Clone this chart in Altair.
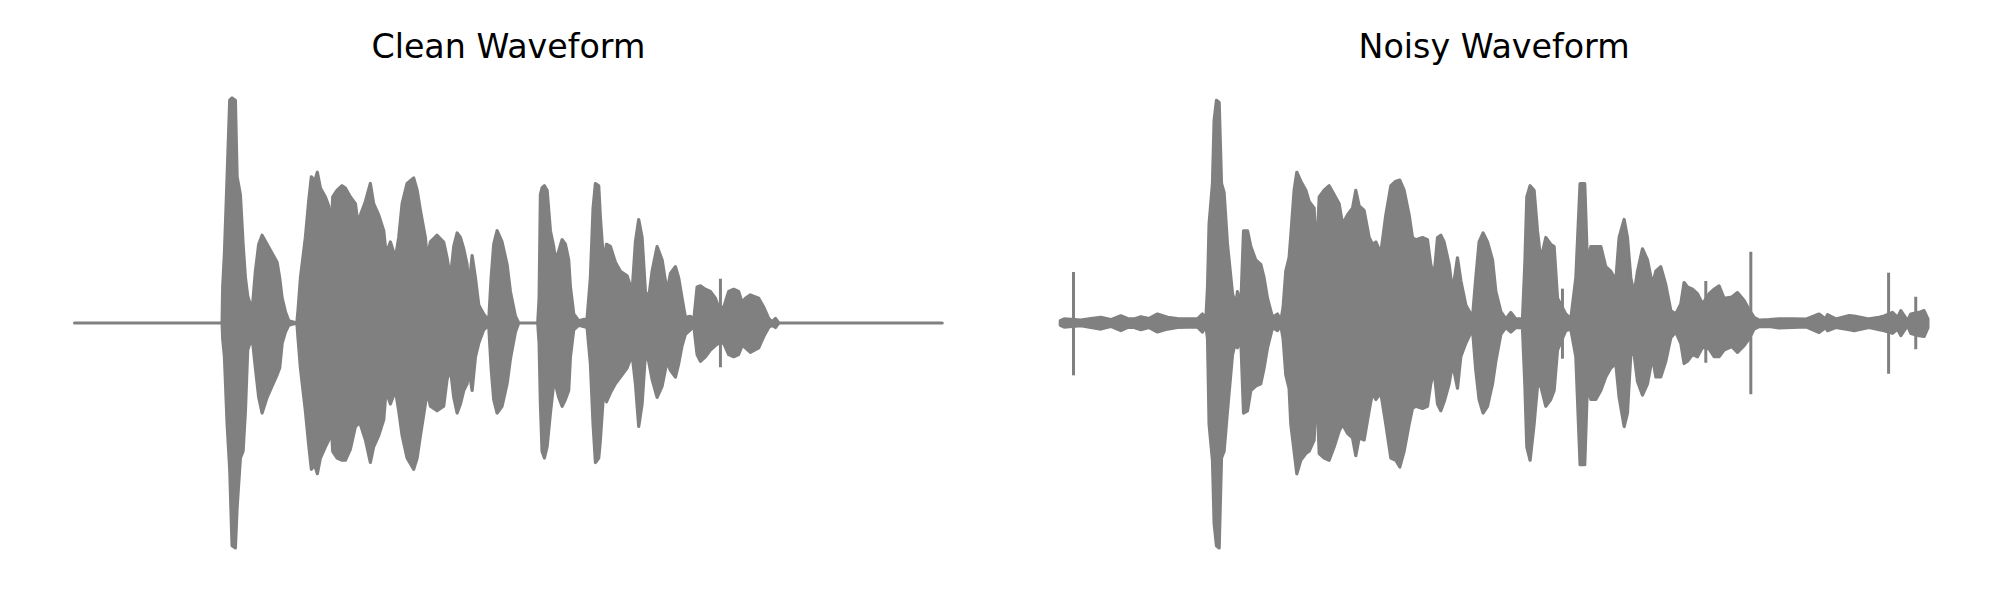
import altair as alt
import pandas as pd

# ---------- Clean waveform envelope (time in % of clip, amplitude normalised) ----------
clean_t = [
    0, 17.00, 17.07, 17.27, 17.58, 17.88, 18.15, 18.53, 18.73, 19.11,
    19.42, 19.69, 19.95, 20.46, 20.84, 21.22, 21.61, 22.19, 22.76, 23.34,
    23.64, 23.92, 24.30, 24.68, 25.62, 25.76, 26.03, 26.60, 26.98, 27.29,
    27.67, 27.98, 28.33, 28.91, 29.29, 29.56, 29.75, 30.26, 30.83, 31.21,
    31.79, 32.37, 32.63, 32.94, 33.52, 34.09, 34.47, 35.05, 35.63, 35.90,
    36.40, 36.98, 37.36, 37.75, 38.32, 39.08, 39.48, 39.86, 40.43, 40.63,
    41.01, 41.78, 42.54, 42.93, 43.31, 43.70, 44.09, 44.47, 44.85, 45.24,
    45.42, 45.82, 46.20, 46.58, 47.15, 47.73, 48.01, 48.31, 48.70, 49.27,
    49.85, 50.23, 50.81, 51.19, 53.38, 53.54, 53.69, 53.88, 54.15, 54.46,
    54.84, 55.22, 55.42, 55.80, 56.19, 56.57, 56.95, 57.15, 57.53, 58.10,
    59.07, 59.45, 59.76, 60.03, 60.41, 60.60, 60.99, 61.30, 61.76, 62.33,
    62.91, 63.68, 64.26, 64.64, 65.02, 65.41, 65.79, 66.17, 66.56, 67.14,
    67.72, 68.29, 68.67, 69.25, 69.63, 70.02, 70.40, 70.98, 71.36, 71.75,
    72.13, 72.71, 73.28, 73.86, 74.24, 74.82, 75.39, 75.97, 76.54, 76.94,
    77.32, 77.89, 78.85, 79.43, 80.00, 80.39, 80.78, 81.16, 100,
]
clean_upper = [
    0, 0, 0.16, 0.31, 0.65, 0.99, 1.0, 0.99, 0.65, 0.57,
    0.35, 0.2, 0.12, 0.055, 0.23, 0.35, 0.39, 0.35, 0.31, 0.27,
    0.2, 0.11, 0.05, 0.01, 0, 0.06, 0.2, 0.38, 0.54, 0.65,
    0.63, 0.67, 0.6, 0.56, 0.52, 0.39, 0.56, 0.59, 0.61, 0.6,
    0.56, 0.53, 0.45, 0.48, 0.54, 0.62, 0.53, 0.48, 0.41, 0.31,
    0.36, 0.29, 0.38, 0.53, 0.62, 0.645, 0.59, 0.5, 0.38, 0.29,
    0.36, 0.39, 0.36, 0.29, 0.2, 0.34, 0.4, 0.38, 0.33, 0.26,
    0.14, 0.3, 0.2, 0.08, 0.04, 0.01, 0.2, 0.35, 0.41, 0.36,
    0.26, 0.14, 0.03, 0, 0, 0.11, 0.57, 0.6, 0.61, 0.59,
    0.41, 0.34, 0.28, 0.32, 0.37, 0.35, 0.28, 0.16, 0.04, 0.01,
    0.02, 0.2, 0.51, 0.62, 0.61, 0.47, 0.26, 0.35, 0.34, 0.27,
    0.23, 0.21, 0.14, 0.36, 0.46, 0.38, 0.14, 0.11, 0.23, 0.34,
    0.28, 0.14, 0.22, 0.25, 0.2, 0.11, 0.025, 0.03, 0.01, 0.16,
    0.165, 0.15, 0.14, 0.11, 0.07, 0.07, 0.14, 0.15, 0.14, 0.09,
    0.11, 0.125, 0.11, 0.07, 0.02, 0.005, 0.02, 0, 0,
]
clean_lower = [
    0, 0, -0.07, -0.15, -0.45, -0.65, -0.99, -1.0, -0.82, -0.6,
    -0.57, -0.39, -0.12, -0.06, -0.2, -0.33, -0.40, -0.33, -0.28, -0.23,
    -0.2, -0.09, -0.04, -0.01, 0, -0.07, -0.2, -0.39, -0.54, -0.65,
    -0.63, -0.67, -0.6, -0.55, -0.52, -0.43, -0.57, -0.6, -0.61, -0.61,
    -0.56, -0.46, -0.45, -0.45, -0.52, -0.62, -0.55, -0.5, -0.43, -0.3,
    -0.36, -0.3, -0.39, -0.5, -0.6, -0.65, -0.6, -0.5, -0.36, -0.3,
    -0.37, -0.39, -0.37, -0.25, -0.2, -0.33, -0.4, -0.36, -0.3, -0.27,
    -0.2, -0.3, -0.15, -0.09, -0.03, -0.01, -0.2, -0.34, -0.4, -0.37,
    -0.27, -0.16, -0.04, 0, 0, -0.09, -0.36, -0.57, -0.6, -0.55,
    -0.4, -0.27, -0.27, -0.33, -0.37, -0.34, -0.3, -0.15, -0.03, -0.01,
    -0.02, -0.18, -0.45, -0.62, -0.6, -0.52, -0.3, -0.35, -0.31, -0.27,
    -0.24, -0.2, -0.14, -0.27, -0.46, -0.36, -0.14, -0.17, -0.25, -0.33,
    -0.28, -0.17, -0.21, -0.24, -0.18, -0.1, -0.05, -0.03, -0.01, -0.14,
    -0.17, -0.15, -0.12, -0.1, -0.09, -0.09, -0.14, -0.15, -0.14, -0.1,
    -0.11, -0.13, -0.11, -0.06, -0.02, -0.01, -0.02, 0, 0,
]
clean_spike_t = [74.44]
clean_spike_top = [0.19]
clean_spike_bottom = [-0.19]

# ---------- Noisy waveform envelope ----------
noisy_t = [
    0, 0.44, 2.36, 3.52, 4.67, 5.82, 6.97, 7.74, 8.51, 9.28,
    10.24, 11.20, 12.36, 13.51, 14.66, 15.81, 16.39, 16.77, 16.97, 17.15,
    17.54, 17.73, 18.00, 18.31, 18.58, 18.88, 19.27, 19.85, 20.23, 20.42,
    20.80, 21.12, 21.58, 21.96, 22.53, 23.11, 23.49, 23.88, 24.46, 25.03,
    25.42, 25.68, 25.99, 26.37, 26.57, 26.95, 27.26, 27.72, 28.30, 28.68,
    29.26, 29.53, 29.84, 30.41, 30.99, 31.57, 32.14, 32.53, 33.10, 33.68,
    34.06, 34.45, 35.02, 35.60, 35.98, 36.37, 36.94, 37.52, 38.10, 38.67,
    39.13, 39.63, 40.21, 40.59, 40.98, 41.75, 42.32, 42.70, 43.08, 43.48,
    43.86, 44.24, 44.82, 45.21, 45.78, 46.16, 46.74, 47.51, 47.89, 48.27,
    48.73, 49.24, 49.82, 50.20, 50.78, 51.35, 51.93, 52.50, 53.27, 53.54,
    53.77, 54.15, 54.61, 55.00, 55.38, 55.96, 56.53, 56.92, 57.31, 58.26,
    58.84, 59.42, 59.91, 60.45, 60.76, 61.15, 61.72, 62.30, 62.87, 63.45,
    64.03, 64.41, 64.99, 65.37, 65.76, 66.14, 66.53, 67.10, 67.68, 68.26,
    68.64, 69.21, 69.79, 70.37, 70.94, 71.52, 71.90, 72.29, 72.87, 73.44,
    74.02, 74.78, 75.36, 75.93, 76.51, 77.40, 78.05, 78.82, 79.39, 79.97,
    80.55, 81.70, 82.85, 84.39, 85.93, 87.46, 88.23, 88.43, 89.39, 90.92,
    91.50, 93.22, 94.38, 94.96, 95.92, 96.50, 96.88, 97.65, 98.03, 98.98,
    99.56, 100,
]
noisy_upper = [
    0.01, 0.018, 0.013, 0.02, 0.025, 0.015, 0.032, 0.02, 0.018, 0.028,
    0.02, 0.04, 0.025, 0.02, 0.018, 0.018, 0.04, 0.01, 0.16, 0.44,
    0.62, 0.9, 0.99, 0.98, 0.62, 0.58, 0.35, 0.13, 0.08, 0.14,
    0.07, 0.41, 0.41, 0.34, 0.28, 0.26, 0.2, 0.11, 0.025, 0.04,
    0.01, 0.07, 0.23, 0.29, 0.39, 0.59, 0.67, 0.63, 0.59, 0.54,
    0.51, 0.29, 0.56, 0.59, 0.61, 0.57, 0.53, 0.44, 0.48, 0.51,
    0.59, 0.52, 0.5, 0.38, 0.35, 0.36, 0.31, 0.48, 0.61, 0.63,
    0.635, 0.59, 0.48, 0.38, 0.37, 0.38, 0.37, 0.26, 0.21, 0.38,
    0.39, 0.36, 0.26, 0.14, 0.29, 0.19, 0.08, 0.025, 0.2, 0.36,
    0.4, 0.36, 0.28, 0.14, 0.05, 0.018, 0.047, 0.018, 0.018, 0.26,
    0.56, 0.61, 0.59, 0.41, 0.28, 0.38, 0.35, 0.34, 0.11, 0.04,
    0.018, 0.2, 0.62, 0.62, 0.26, 0.34, 0.34, 0.34, 0.25, 0.23,
    0.19, 0.38, 0.46, 0.38, 0.2, 0.13, 0.23, 0.33, 0.28, 0.17,
    0.23, 0.25, 0.17, 0.055, 0.04, 0.085, 0.18, 0.16, 0.15, 0.13,
    0.085, 0.13, 0.15, 0.165, 0.11, 0.115, 0.135, 0.1, 0.06, 0.025,
    0.013, 0.015, 0.018, 0.019, 0.017, 0.04, 0.018, 0.037, 0.018, 0.033,
    0.031, 0.018, 0.025, 0.031, 0.047, 0.025, 0.055, 0.01, 0.04, 0.047,
    0.055, 0.018,
]
noisy_lower = [
    -0.01, -0.018, -0.012, -0.02, -0.027, -0.015, -0.034, -0.02, -0.02, -0.03,
    -0.02, -0.04, -0.027, -0.02, -0.018, -0.018, -0.04, -0.01, -0.07, -0.45,
    -0.61, -0.89, -0.99, -1.0, -0.6, -0.57, -0.39, -0.14, -0.08, -0.11,
    -0.064, -0.4, -0.39, -0.3, -0.28, -0.27, -0.2, -0.11, -0.02, -0.034,
    -0.012, -0.07, -0.23, -0.29, -0.45, -0.57, -0.67, -0.61, -0.58, -0.57,
    -0.52, -0.27, -0.58, -0.6, -0.61, -0.55, -0.48, -0.45, -0.49, -0.51,
    -0.59, -0.51, -0.52, -0.39, -0.31, -0.34, -0.31, -0.45, -0.6, -0.61,
    -0.64, -0.57, -0.45, -0.38, -0.37, -0.38, -0.37, -0.27, -0.21, -0.36,
    -0.39, -0.35, -0.27, -0.18, -0.29, -0.15, -0.09, -0.027, -0.21, -0.34,
    -0.4, -0.37, -0.27, -0.17, -0.05, -0.02, -0.04, -0.02, -0.022, -0.27,
    -0.55, -0.61, -0.45, -0.28, -0.28, -0.37, -0.34, -0.3, -0.12, -0.034,
    -0.027, -0.15, -0.63, -0.63, -0.27, -0.34, -0.34, -0.3, -0.24, -0.2,
    -0.18, -0.33, -0.46, -0.4, -0.14, -0.14, -0.26, -0.32, -0.27, -0.15,
    -0.24, -0.24, -0.17, -0.065, -0.04, -0.09, -0.18, -0.17, -0.14, -0.15,
    -0.108, -0.115, -0.15, -0.15, -0.12, -0.105, -0.13, -0.1, -0.07, -0.027,
    -0.016, -0.015, -0.022, -0.02, -0.017, -0.042, -0.02, -0.034, -0.02, -0.03,
    -0.034, -0.02, -0.03, -0.034, -0.046, -0.027, -0.056, -0.012, -0.046, -0.056,
    -0.06, -0.022,
]
noisy_spike_t = [1.52, 57.88, 74.40, 79.59, 95.47, 98.60]
noisy_spike_top = [0.22, 0.146, 0.18, 0.31, 0.217, 0.11]
noisy_spike_bottom = [-0.226, -0.152, -0.17, -0.31, -0.219, -0.11]

assert len(clean_t) == len(clean_upper) == len(clean_lower)
assert len(noisy_t) == len(noisy_upper) == len(noisy_lower)

GRAY = "#808080"
PANEL_W = 867.6
PANEL_H = 495


def panel(t, up, lo, st, stop, sbot, title):
    env = pd.DataFrame({"t": t, "upper": up, "lower": lo})
    spk = pd.DataFrame({"t": st, "top": stop, "bottom": sbot})
    xs = alt.Scale(domain=[0, 100], nice=False, zero=False)
    ys = alt.Scale(domain=[-1.1, 1.1], nice=False, zero=False)
    area = alt.Chart(env).mark_area(
        color=GRAY, stroke=GRAY, strokeWidth=3.2, strokeJoin="round", fillOpacity=1
    ).encode(
        x=alt.X("t:Q", axis=None, scale=xs),
        y=alt.Y("upper:Q", axis=None, scale=ys),
        y2="lower:Q",
    )
    rules = alt.Chart(spk).mark_rule(
        color=GRAY, strokeWidth=3, strokeCap="square"
    ).encode(
        x=alt.X("t:Q", axis=None, scale=xs),
        y=alt.Y("top:Q", axis=None, scale=ys),
        y2="bottom:Q",
    )
    return alt.layer(area, rules).properties(
        width=PANEL_W,
        height=PANEL_H,
        title=alt.TitleParams(
            title, fontSize=33.3, font="DejaVu Sans", fontWeight="normal",
            color="black", anchor="middle", offset=10,
        ),
    )


left = panel(clean_t, clean_upper, clean_lower,
             clean_spike_t, clean_spike_top, clean_spike_bottom, "Clean Waveform")
right = panel(noisy_t, noisy_upper, noisy_lower,
              noisy_spike_t, noisy_spike_top, noisy_spike_bottom, "Noisy Waveform")

chart = alt.hconcat(left, right, spacing=117.7, bounds="flush").properties(
    padding={"left": 64.6, "top": 22.5, "right": 5, "bottom": 5},
    background="white",
).configure_view(stroke=None)

chart.save("out.html", embed_options={"renderer": "svg", "actions": False})
